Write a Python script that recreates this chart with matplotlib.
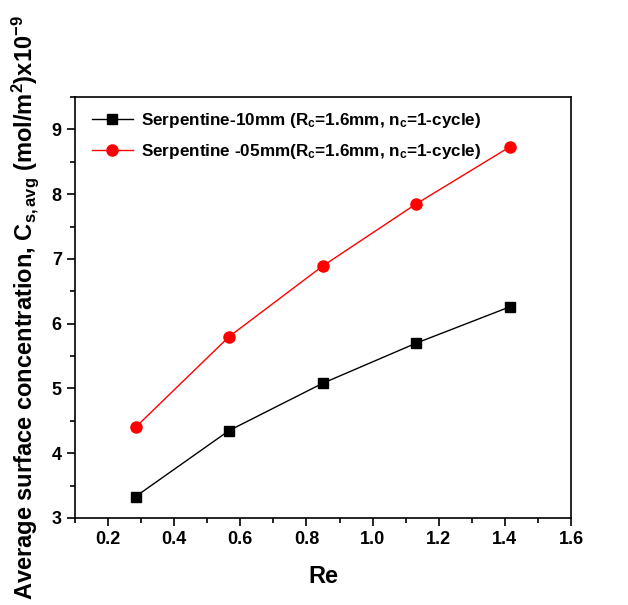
import matplotlib
matplotlib.use("Agg")
import matplotlib.pyplot as plt
from matplotlib.ticker import MultipleLocator

plt.rcParams['font.family'] = ['Liberation Sans', 'DejaVu Sans']
plt.rcParams['font.weight'] = 'bold'
plt.rcParams['mathtext.fontset'] = 'custom'
plt.rcParams['mathtext.rm'] = 'Liberation Sans:bold'
plt.rcParams['mathtext.bf'] = 'Liberation Sans:bold'
plt.rcParams['mathtext.it'] = 'Liberation Sans:bold'
plt.rcParams['mathtext.default'] = 'bf'

re_vals = [0.283, 0.566, 0.849, 1.132, 1.415]
serp10 = [3.33, 4.35, 5.08, 5.70, 6.26]
serp05 = [4.40, 5.80, 6.89, 7.85, 8.73]
labels = ["Serpentine-10mm (R$_c$=1.6mm, n$_c$=1-cycle)",
          "Serpentine -05mm(R$_c$=1.6mm, n$_c$=1-cycle)"]
xticks = [0.2, 0.4, 0.6, 0.8, 1.0, 1.2, 1.4, 1.6]
xticklabels = ['0.2', '0.4', '0.6', '0.8', '1.0', '1.2', '1.4', '1.6']

fig = plt.figure(figsize=(6.28, 6.05), dpi=100)
ax = fig.add_axes([75/628, 1-518/605, (571-75)/628, (518-97)/605])

ax.plot(re_vals, serp10, color='black', lw=1, marker='s', ms=7, label=labels[0])
ax.plot(re_vals, serp05, color='red', lw=1, marker='o', ms=8, label=labels[1])

ax.set_xlim(0.1, 1.6)
ax.set_ylim(3, 9.5)
ax.xaxis.set_minor_locator(MultipleLocator(0.1))
ax.yaxis.set_major_locator(MultipleLocator(1))
ax.yaxis.set_minor_locator(MultipleLocator(0.5))
ax.set_xticks(xticks)
ax.set_xticklabels(xticklabels)
ax.tick_params(which='both', direction='out', width=1.2, labelsize=13)
ax.tick_params(which='major', length=6)
ax.tick_params(which='minor', length=3.5)
for lab in ax.get_xticklabels() + ax.get_yticklabels():
    lab.set_fontweight('bold')
for s in ax.spines.values():
    s.set_linewidth(1.2)

ax.set_xlabel('Re', fontsize=17, fontweight='bold', labelpad=12)
ax.set_ylabel('Average surface concentration, C$_{s,avg}$ (mol/m$^2$)x10$^{-9}$',
              fontsize=17, fontweight='bold', labelpad=8)

leg = ax.legend(loc='upper left', bbox_to_anchor=(0.01, 0.995), frameon=False,
                prop={'weight': 'bold', 'size': 12.3}, handlelength=2.4,
                handletextpad=0.5, borderaxespad=0.4, labelspacing=0.7,
                borderpad=0.3)

fig.savefig('out.png', dpi=100)
